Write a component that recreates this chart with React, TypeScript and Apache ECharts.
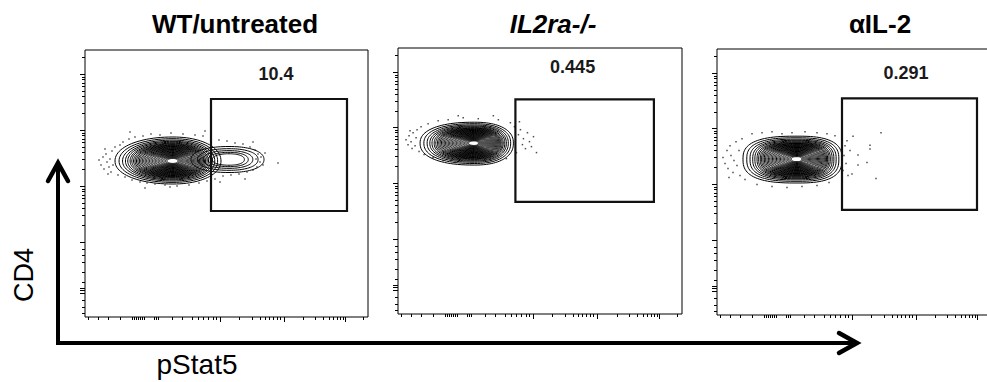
import React, { useEffect, useRef } from "react";
import * as echarts from "echarts";

// ---------- data ----------
const PANEL_TITLES = ["WT/untreated", "IL2ra-/-", "αIL-2"];
const TITLE_ITALIC = [false, true, false];
const GATE_PCT = ["10.4", "0.445", "0.291"];
const X_AXIS_NAME = "pStat5";
const Y_AXIS_NAME = "CD4";

// display (channel) scale of both axes
const X_RANGE = [0, 283];
const Y_RANGE = [0, 267];
const X_MAJOR_TICKS = [135, 199, 260];
const X_MINOR_TICKS = [3, 13, 23, 35, 47, 49, 51, 53, 55, 57, 59, 69, 71, 73, 87, 97, 107, 113, 118, 123, 128, 131, 154, 167, 175, 180, 184, 188, 192, 195, 218, 230, 238, 244, 248, 252, 255, 258, 278];
const Y_MAJOR_TICKS = [24, 26.5, 29, 75, 131, 187, 243];
const Y_MINOR_TICKS = [4, 10, 17, 35, 45, 55, 62, 68, 92, 102, 109, 114, 119, 122, 126, 128, 148, 158, 165, 170, 175, 178, 182, 184, 204, 214, 221, 226, 231, 234, 238, 240, 260];

// gates: [xLow, yLow, xHigh, yHigh]
const GATE_WT = [126, 106, 262, 218];
const GATE_IL2RA = [117, 112.5, 255, 215.5];
const GATE_AIL2 = [125, 105.5, 260, 217.5];
// gate frequency label anchor [x, y]
const LABEL_WT = [191, 243];
const LABEL_IL2RA = [174, 247.5];
const LABEL_AIL2 = [189, 242.5];

// populations: [centerX, centerY, spreadLeft, spreadRight, spreadUp, spreadDown, squareness]
const POPS_WT = [
  [88, 156, 58, 48, 24, 23, 2.1],
  [144, 157.5, 38, 35, 13, 13, 2.2],
];
const POPS_IL2RA = [[76, 171.5, 54, 39, 21, 22, 2.3]];
const POPS_AIL2 = [[80, 156.5, 54, 45, 23, 24, 2.7]];
// contour levels (fraction of outer contour) for main and secondary populations
const LEVELS_MAIN = [1, 0.93, 0.87, 0.82, 0.78, 0.74, 0.71, 0.68, 0.655, 0.63, 0.605, 0.58, 0.555, 0.53, 0.505, 0.48, 0.455, 0.43, 0.405, 0.38, 0.355, 0.33, 0.305, 0.28, 0.255, 0.23, 0.205, 0.18, 0.155, 0.13, 0.105];
const LEVELS_MINOR = [1, 0.83, 0.68, 0.55, 0.44];

// outlier events [x, y]
const EVENTS_WT = [
  [14, 157], [16, 152], [18, 160], [19, 148], [21, 163], [22, 155], [24, 150], [25, 158], [26, 145], [27, 166], [28, 152], [30, 170],
  [33, 142], [35, 172], [38, 175], [40, 140], [44, 178], [47, 137], [50, 180], [55, 135], [58, 181], [62, 134], [66, 183], [70, 133],
  [75, 182], [80, 132], [86, 184], [92, 131], [98, 183], [104, 132], [110, 182], [114, 134], [118, 181], [122, 136], [126, 179], [130, 138],
  [134, 177], [138, 141], [142, 176], [146, 142], [150, 174], [154, 143], [158, 173], [162, 145], [165, 170], [168, 147], [170, 167], [172, 150],
  [173, 163], [175, 155], [176, 160], [171, 158], [178, 152], [180, 164], [193, 154], [20, 168], [23, 143], [45, 185], [60, 129], [85, 130],
  [120, 186], [135, 135], [160, 138], [168, 175],
];
const EVENTS_IL2RA = [
  [8, 175], [10, 170], [11, 179], [13, 173], [14, 166], [15, 182], [17, 169], [18, 177], [19, 185], [21, 163], [23, 188], [12, 184],
  [26, 160], [30, 191], [35, 157], [40, 194], [45, 154], [50, 195], [57, 152], [65, 197], [72, 151], [80, 196], [90, 152], [100, 195],
  [108, 156], [112, 192], [116, 188], [118, 162], [120, 180], [122, 185], [124, 170], [125, 176], [127, 166], [129, 182], [131, 173],
  [133, 168], [135, 178], [138, 162], [121, 193], [60, 199], [95, 199],
];
const EVENTS_AIL2 = [
  [6, 158], [8, 152], [10, 165], [11, 147], [13, 170], [14, 160], [16, 143], [17, 155], [19, 174], [20, 150], [22, 165], [23, 140],
  [25, 177], [12, 138], [28, 136], [35, 182], [45, 183], [55, 184], [65, 182], [75, 183], [88, 184], [100, 183], [110, 182], [118, 180],
  [40, 131], [55, 129], [70, 128], [85, 129], [100, 130], [112, 133], [126, 145], [127, 160], [128, 170], [129, 152], [130, 175], [131, 140],
  [133, 165], [136, 179.5], [164, 183], [153, 170.5], [153, 166.5], [141, 160.5], [141, 150.5], [150, 153], [159, 137], [135, 141.5],
];

const GATES = [GATE_WT, GATE_IL2RA, GATE_AIL2];
const LABELS = [LABEL_WT, LABEL_IL2RA, LABEL_AIL2];
const POPS = [POPS_WT, POPS_IL2RA, POPS_AIL2];
const EVENTS = [EVENTS_WT, EVENTS_IL2RA, EVENTS_AIL2];

// ---------- layout ----------
const FONT = "'Liberation Sans', Arial, Helvetica, sans-serif";
const PANEL_BOXES = [
  { left: 85, top: 50, width: 283, height: 267 },
  { left: 398, top: 48, width: 284, height: 266 },
  { left: 717, top: 49, width: 283, height: 266 },
];
const TITLE_X = [235, 553, 880];

function contourItem(params: any, api: any) {
  const cx = api.value(0), cy = api.value(1);
  const l = api.value(2), r = api.value(3), u = api.value(4), d = api.value(5);
  const p = api.value(6), k = api.value(7);
  const pts: number[][] = [];
  const n = 96;
  for (let i = 0; i < n; i++) {
    const t = (i / n) * Math.PI * 2;
    const c = Math.cos(t), s = Math.sin(t);
    const ec = Math.sign(c) * Math.pow(Math.abs(c), 2 / p);
    const es = Math.sign(s) * Math.pow(Math.abs(s), 2 / p);
    const dx = ec * (c >= 0 ? r : l) * k;
    const dy = es * (s >= 0 ? u : d) * k;
    pts.push(api.coord([cx + dx, cy + dy]));
  }
  return {
    type: "polygon",
    shape: { points: pts },
    style: { fill: "none", stroke: "#000", lineWidth: 1 },
  };
}

function buildOption() {
  const grid: any[] = [];
  const xAxis: any[] = [];
  const yAxis: any[] = [];
  const series: any[] = [];

  PANEL_BOXES.forEach((b, i) => {
    grid.push({
      ...b,
      show: true,
      borderColor: "#000",
      borderWidth: 1,
      backgroundColor: "transparent",
      containLabel: false,
      outerBoundsMode: "none",
    });
    const common = {
      gridIndex: i,
      type: "value",
      axisLine: { show: false },
      axisLabel: { show: false },
      splitLine: { show: false },
    };
    xAxis.push({ ...common, min: X_RANGE[0], max: X_RANGE[1], position: "bottom",
      axisTick: { show: true, customValues: X_MAJOR_TICKS, length: 5, lineStyle: { color: "#000", width: 1 } } });
    xAxis.push({ ...common, min: X_RANGE[0], max: X_RANGE[1], position: "bottom",
      axisTick: { show: true, customValues: X_MINOR_TICKS, length: 3, lineStyle: { color: "#000", width: 1 } } });
    yAxis.push({ ...common, min: Y_RANGE[0], max: Y_RANGE[1], position: "left",
      axisTick: { show: true, customValues: Y_MAJOR_TICKS, length: 5, lineStyle: { color: "#000", width: 1 } } });
    yAxis.push({ ...common, min: Y_RANGE[0], max: Y_RANGE[1], position: "left",
      axisTick: { show: true, customValues: Y_MINOR_TICKS, length: 3, lineStyle: { color: "#000", width: 1 } } });

    const contourData: number[][] = [];
    POPS[i].forEach((pop, j) => {
      const levels = j === 0 ? LEVELS_MAIN : LEVELS_MINOR;
      levels.forEach((lv) => contourData.push([...pop, lv]));
    });

    series.push({
      type: "custom",
      xAxisIndex: 2 * i,
      yAxisIndex: 2 * i,
      data: contourData,
      renderItem: contourItem,
      silent: true,
      z: 2,
    });
    series.push({
      type: "scatter",
      xAxisIndex: 2 * i,
      yAxisIndex: 2 * i,
      data: EVENTS[i],
      symbol: "rect",
      symbolSize: 1.5,
      itemStyle: { color: "#222" },
      silent: true,
      z: 3,
    });
    series.push({
      type: "custom",
      xAxisIndex: 2 * i,
      yAxisIndex: 2 * i,
      data: [[...GATES[i], ...LABELS[i]]],
      silent: true,
      z: 4,
      renderItem: (params: any, api: any) => {
        const p1 = api.coord([api.value(0), api.value(3)]);
        const p2 = api.coord([api.value(2), api.value(1)]);
        const lab = api.coord([api.value(4), api.value(5)]);
        return {
          type: "group",
          children: [
            {
              type: "rect",
              shape: { x: p1[0], y: p1[1], width: p2[0] - p1[0], height: p2[1] - p1[1] },
              style: { fill: "none", stroke: "#111", lineWidth: 2.2 },
            },
            {
              type: "text",
              x: lab[0],
              y: lab[1],
              style: {
                text: GATE_PCT[i],
                fontFamily: FONT,
                fontSize: 18,
                fontWeight: "bold",
                fill: "#1a1a1a",
                align: "center",
                verticalAlign: "middle",
              },
            },
          ],
        };
      },
    });
  });

  const graphic: any[] = [];
  PANEL_TITLES.forEach((t, i) => {
    graphic.push({
      type: "text",
      x: TITLE_X[i],
      y: 24,
      style: {
        text: t,
        fontFamily: FONT,
        fontSize: 26,
        fontWeight: "bold",
        fontStyle: TITLE_ITALIC[i] ? "italic" : "normal",
        fill: "#000",
        align: "center",
        verticalAlign: "middle",
      },
    });
  });
  graphic.push({
    type: "polyline",
    shape: { points: [[58, 164], [58, 343], [856, 343]] },
    style: { stroke: "#000", lineWidth: 4, fill: "none", lineJoin: "miter", lineCap: "butt" },
  });
  graphic.push({
    type: "polyline",
    shape: { points: [[48, 181], [58, 163], [68, 181]] },
    style: { stroke: "#000", lineWidth: 4.5, fill: "none", lineJoin: "miter", lineCap: "round" },
  });
  graphic.push({
    type: "polyline",
    shape: { points: [[839, 333], [857, 343], [839, 353]] },
    style: { stroke: "#000", lineWidth: 4.5, fill: "none", lineJoin: "miter", lineCap: "round" },
  });
  graphic.push({
    type: "text",
    x: 197,
    y: 364,
    style: { text: X_AXIS_NAME, fontFamily: FONT, fontSize: 28, fill: "#000", align: "center", verticalAlign: "middle" },
  });
  graphic.push({
    type: "text",
    x: 24,
    y: 275,
    rotation: Math.PI / 2,
    style: { text: Y_AXIS_NAME, fontFamily: FONT, fontSize: 27, fill: "#000", align: "center", verticalAlign: "middle" },
  });

  return {
    animation: false,
    backgroundColor: "#fff",
    grid,
    xAxis,
    yAxis,
    series,
    graphic,
  };
}

export default function App() {
  const ref = useRef<HTMLDivElement>(null);
  useEffect(() => {
    if (!ref.current) return;
    const chart = echarts.init(ref.current, null, { renderer: "svg" });
    chart.setOption(buildOption() as any);
    return () => chart.dispose();
  }, []);
  return <div ref={ref} style={{ position: "absolute", left: 0, top: 0, width: 987, height: 382 }} />;
}
